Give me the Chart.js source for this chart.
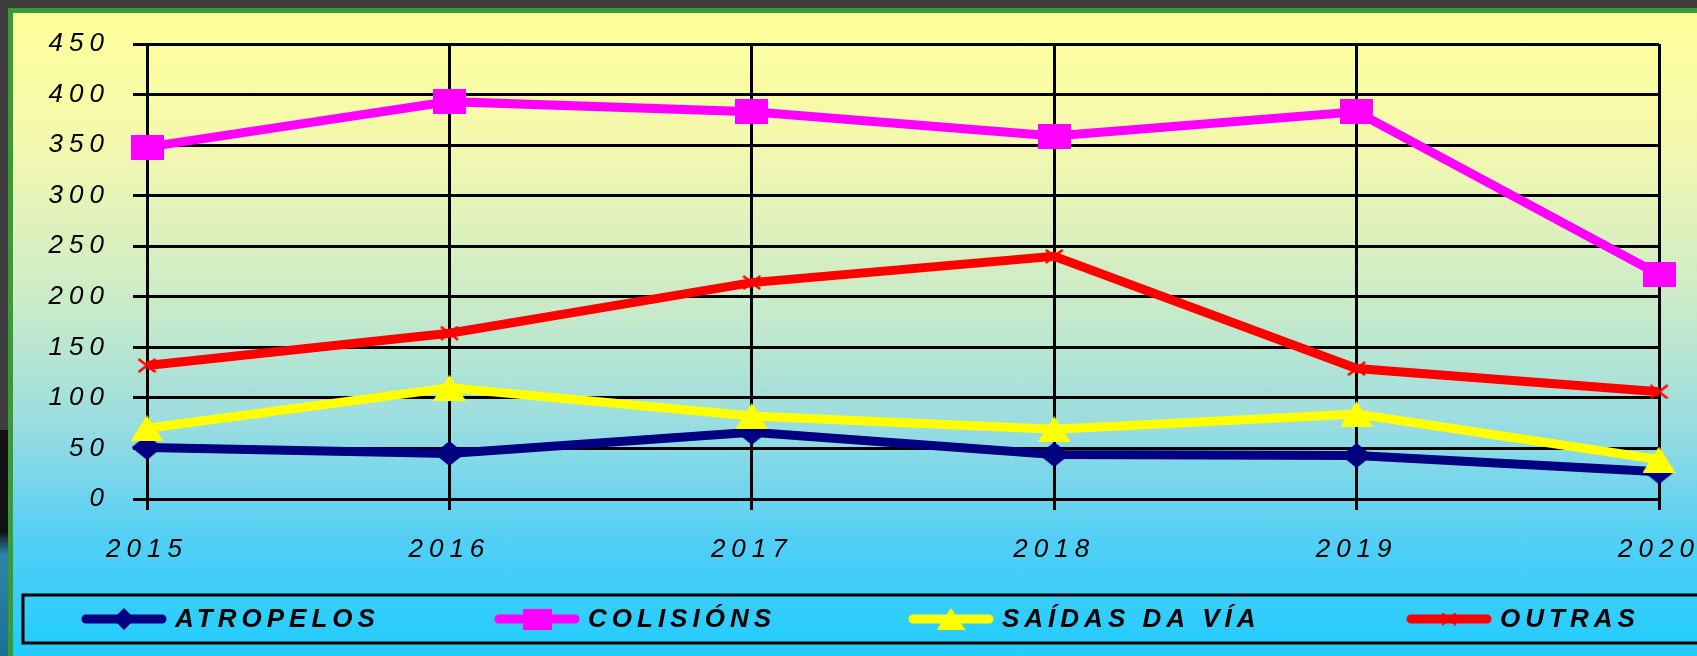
<!DOCTYPE html>
<html>
<head>
<meta charset="utf-8">
<script src="https://cdn.jsdelivr.net/npm/chart.js@4.4.1/dist/chart.umd.min.js"></script>
<style>
  html, body { margin: 0; padding: 0; width: 1697px; height: 656px; overflow: hidden; background: #3d3d3d; }
  #side { position: absolute; left: 0; top: 430px; width: 8px; height: 226px;
    background: linear-gradient(to bottom, #111 0%, #111 45%, #2b86a8 55%, #1d6f93 100%); }
  #frame { position: absolute; left: 8px; top: 8px; width: 1700px; height: 660px;
    border-left: 5px solid #3a9b36; border-top: 5px solid #3a9b36;
    background: linear-gradient(to bottom, #ffff99 0%, #f4f8ae 20%, #c8eaca 45%, #9bdde0 62%, #52cff5 80%, #18ccff 100%); }
  #chart { position: absolute; left: 0; top: 0; }
</style>
</head>
<body>
<div id="side"></div>
<div id="frame"></div>
<canvas id="chart" width="1697" height="656"></canvas>
<script>
const years = ["2015", "2016", "2017", "2018", "2019", "2020"];
const atropelos = [51, 45, 66, 44, 43, 27];
const colisions = [348, 393, 383, 359, 383, 222];
const saidas = [70, 110, 82, 69, 84, 39];
const outras = [132, 164, 214, 240, 129, 106];
const seriesNames = ["ATROPELOS", "COLISIÓNS", "SAÍDAS DA VÍA", "OUTRAS"];
const yMin = 0;
const yMax = 450;
const yStep = 50;

const tickFont = { family: "'Liberation Sans', Arial, sans-serif", size: 26, style: "italic" };

const makeMarker = (w, h, paint) => {
  const c = document.createElement("canvas");
  c.width = w;
  c.height = h;
  paint(c.getContext("2d"), w, h);
  return c;
};

const diamond = (w, h) =>
  makeMarker(w, h, (ctx) => {
    ctx.fillStyle = "#000080";
    ctx.beginPath();
    ctx.moveTo(w / 2, 0);
    ctx.lineTo(w, h / 2);
    ctx.lineTo(w / 2, h);
    ctx.lineTo(0, h / 2);
    ctx.closePath();
    ctx.fill();
  });

const square = (w, h) =>
  makeMarker(w, h, (ctx) => {
    ctx.fillStyle = "#ff00ff";
    ctx.fillRect(0, 0, w, h);
  });

const triangle = (w, h) =>
  makeMarker(w, h, (ctx) => {
    ctx.fillStyle = "#ffff00";
    ctx.beginPath();
    ctx.moveTo(w / 2, 0);
    ctx.lineTo(w, h);
    ctx.lineTo(0, h);
    ctx.closePath();
    ctx.fill();
  });

const cross = (w, h) =>
  makeMarker(w, h, (ctx) => {
    ctx.strokeStyle = "#ff0000";
    ctx.lineWidth = 2.5;
    ctx.beginPath();
    ctx.moveTo(1, 1);
    ctx.lineTo(w - 1, h - 1);
    ctx.moveTo(w - 1, 1);
    ctx.lineTo(1, h - 1);
    ctx.stroke();
  });

const legendMarkers = [diamond(22, 22), square(29, 21), triangle(29, 22), cross(16, 13)];

// spacing between letters, as in the original
const letterSpacing = {
  id: "letterSpacing",
  beforeDraw(chart) {
    chart.ctx.letterSpacing = "6px";
  },
};

const legendBox = {
  id: "legendBox",
  afterDraw(chart, args, opts) {
    const { ctx } = chart;
    const cy = opts.top + opts.height / 2;
    ctx.save();
    ctx.strokeStyle = "#000";
    ctx.lineWidth = 3;
    ctx.strokeRect(opts.left, opts.top, opts.width, opts.height);

    chart.data.datasets.forEach((ds, i) => {
      const x = opts.itemX[i];
      ctx.strokeStyle = ds.borderColor;
      ctx.lineWidth = 9;
      ctx.lineCap = "round";
      ctx.beginPath();
      ctx.moveTo(x + 4, cy);
      ctx.lineTo(x + opts.sample - 4, cy);
      ctx.stroke();

      const m = legendMarkers[i];
      ctx.drawImage(m, x + opts.sample / 2 - m.width / 2, cy - m.height / 2);

      ctx.fillStyle = "#000";
      ctx.font = "italic bold 26px 'Liberation Sans', Arial, sans-serif";
      ctx.letterSpacing = "5px";
      ctx.textBaseline = "middle";
      ctx.fillText(ds.label, x + opts.sample + 9, cy + 1);
    });
    ctx.restore();
  },
};

const dataset = (label, data, color, marker, order) => ({
  label,
  data,
  borderColor: color,
  backgroundColor: color,
  borderWidth: 9,
  pointStyle: marker,
  pointRadius: 12,
  tension: 0,
  clip: false,
  order,
});

new Chart(document.getElementById("chart"), {
  type: "line",
  data: {
    labels: years,
    datasets: [
      dataset(seriesNames[0], atropelos, "#000080", diamond(31, 25), 4),
      dataset(seriesNames[1], colisions, "#ff00ff", square(33, 25), 3),
      dataset(seriesNames[2], saidas, "#ffff00", triangle(33, 26), 2),
      dataset(seriesNames[3], outras, "#ff0000", cross(19, 15), 1),
    ],
  },
  options: {
    responsive: false,
    animation: false,
    events: [],
    layout: {
      padding: { left: 0, top: 44, right: 38, bottom: 97 },
    },
    plugins: {
      legend: { display: false },
      tooltip: { enabled: false },
      legendBox: {
        left: 23,
        top: 595,
        width: 1700,
        height: 48,
        sample: 84,
        itemX: [82, 495, 909, 1407],
      },
    },
    scales: {
      x: {
        offset: false,
        grid: { color: "#000", lineWidth: 3, tickLength: 11, tickColor: "#000", tickWidth: 3 },
        border: { color: "#000", width: 3 },
        ticks: { color: "#000", font: tickFont, padding: 24, maxRotation: 0, autoSkip: false },
        afterFit: (s) => {
          s.height = 60;
          s.paddingLeft = 0;
          s.paddingRight = 0;
        },
      },
      y: {
        min: yMin,
        max: yMax,
        grid: { color: "#000", lineWidth: 3, tickLength: 14, tickColor: "#000", tickWidth: 3 },
        border: { color: "#000", width: 3 },
        ticks: { stepSize: yStep, color: "#000", font: tickFont, padding: 23 },
        afterFit: (s) => {
          s.width = 147;
          s.paddingTop = 0;
          s.paddingBottom = 0;
        },
      },
    },
  },
  plugins: [letterSpacing, legendBox],
});
</script>
</body>
</html>
